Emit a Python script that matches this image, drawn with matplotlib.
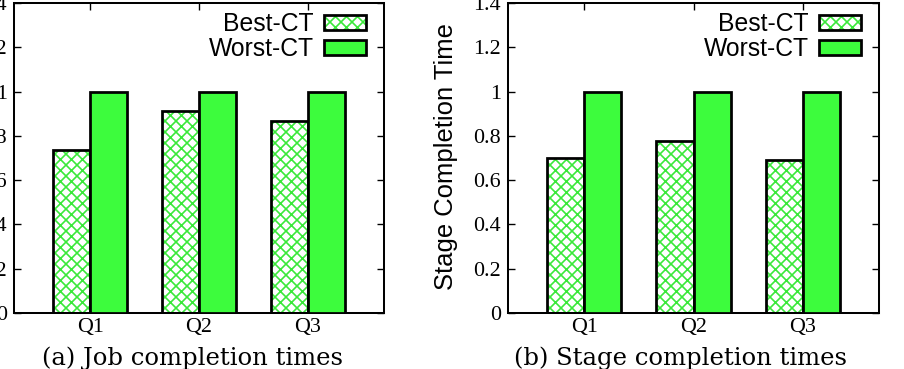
import matplotlib
matplotlib.use("Agg")
import matplotlib.pyplot as plt
from matplotlib.legend_handler import HandlerTuple
import numpy as np

# ---- data ----
categories = ["Q1", "Q2", "Q3"]
job_best = [0.734, 0.912, 0.867]
job_worst = [1.0, 1.0, 1.0]
stage_best = [0.700, 0.778, 0.689]
stage_worst = [1.0, 1.0, 1.0]
yticks = [0, 0.2, 0.4, 0.6, 0.8, 1.0, 1.2, 1.4]
ytick_labels = ["0", "0.2", "0.4", "0.6", "0.8", "1", "1.2", "1.4"]
series_names = ["Best-CT", "Worst-CT"]
captions = ["(a) Job completion times", "(b) Stage completion times"]
ylabel_right = "Stage Completion Time"

DPI = 66
W, H = 904, 369
GREEN = "#3dfc3d"
HATCH_GREEN = "#3ae83a"

plt.rcParams["hatch.linewidth"] = 1.8
plt.rcParams["hatch.color"] = HATCH_GREEN

fig = plt.figure(figsize=(W / DPI, H / DPI), dpi=DPI)

def px2fig_x(px):
    return px / W

def px2fig_y(py):
    return (H - py) / H

ax_specs = [
    (14, 384, job_best, job_worst),
    (508, 879, stage_best, stage_worst),
]

bw = 0.34
x = np.arange(len(categories))
top_px, bot_px = 3, 313

for (x0, x1, best, worst) in ax_specs:
    ax = fig.add_axes([px2fig_x(x0), px2fig_y(bot_px), (x1 - x0) / W, (bot_px - top_px) / H])
    hb = ax.bar(x - bw, best, width=bw, align="edge", facecolor="white",
                edgecolor=HATCH_GREEN, hatch="xx", linewidth=0, zorder=2)
    ob = ax.bar(x - bw, best, width=bw, align="edge", fill=False,
                edgecolor="black", linewidth=3.0, zorder=3)
    wb = ax.bar(x, worst, width=bw, align="edge", facecolor=GREEN,
                edgecolor="black", linewidth=3.0, zorder=3)
    ax.set_xlim(-0.70, 2.70)
    ax.set_ylim(0, 1.4)
    ax.set_yticks(yticks)
    ax.set_yticklabels(ytick_labels)
    ax.set_xticks(x)
    ax.set_xticklabels(categories)
    for lab in ax.get_xticklabels() + ax.get_yticklabels():
        lab.set_fontfamily("Liberation Serif")
        lab.set_fontsize(24)
    ax.tick_params(axis="both", direction="in", length=7.5, width=1.5,
                   top=True, right=True)
    ax.tick_params(axis="y", pad=8)
    ax.tick_params(axis="x", pad=5)
    for s in ax.spines.values():
        s.set_linewidth(2.2)
    ax.legend([(hb, ob), wb], series_names, handler_map={tuple: HandlerTuple(ndivide=1)},
              loc="upper right", bbox_to_anchor=(1 - 18 / (x1 - x0), 1 - 9 / (bot_px - top_px)),
              frameon=False, markerfirst=False, handlelength=1.7, handleheight=0.55,
              handletextpad=0.4, labelspacing=0.05, borderpad=0, borderaxespad=0,
              prop={"family": "Liberation Sans", "size": 27})

fig.text(px2fig_x(446), px2fig_y(157), ylabel_right, rotation=90, ha="center", va="center",
         fontfamily="Liberation Sans", fontsize=28)

fig.text(px2fig_x(193), px2fig_y(365), captions[0], ha="center", va="baseline",
         fontfamily="DejaVu Serif", fontsize=26.5)
fig.text(px2fig_x(680), px2fig_y(365), captions[1], ha="center", va="baseline",
         fontfamily="DejaVu Serif", fontsize=26.5)

fig.savefig("out.png", dpi=DPI)
